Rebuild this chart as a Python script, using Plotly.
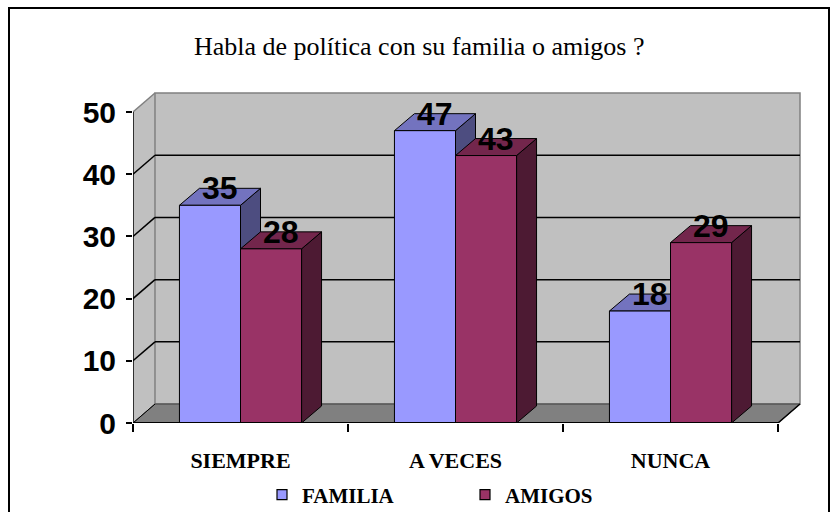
import plotly.graph_objects as go

# ---- data ----
categorias = ["SIEMPRE", "A VECES", "NUNCA"]
familia = [35, 47, 18]
amigos = [28, 43, 29]
series_names = ["FAMILIA", "AMIGOS"]
y_ticks = [0, 10, 20, 30, 40, 50]
titulo = "Habla de política con su familia o amigos ?"

# ---- geometry (axis units) ----
BW = 0.284          # bar width
BDX, BDY = 0.093, 2.73   # bar depth offset
WDX, WDY = 0.1023, 3.05  # wall depth offset
YMAX = 50
XR = [-0.5, 2.6209]
YR = [0, 53.376]

fam_cols = dict(front="#9999FF", top="#7373BF", side="#4D4D80")
ami_cols = dict(front="#993366", top="#73264C", side="#4D1A33")

SERIF = "Liberation Serif, Times New Roman, serif"
SANS = "Liberation Sans, Arial, sans-serif"


def faces(values, left_offset):
    fx, fy, tx, ty, sx, sy = [], [], [], [], [], []
    for i, v in enumerate(values):
        x0 = i + left_offset
        x1 = x0 + BW
        fx += [x0, x1, x1, x0, x0, None]
        fy += [0, 0, v, v, 0, None]
        tx += [x0, x1, x1 + BDX, x0 + BDX, x0, None]
        ty += [v, v, v + BDY, v + BDY, v, None]
        sx += [x1, x1 + BDX, x1 + BDX, x1, x1, None]
        sy += [0, BDY, v + BDY, v, 0, None]
    return (fx, fy), (tx, ty), (sx, sy)


fig = go.Figure()

for vals, off, cols in [(familia, -BW, fam_cols), (amigos, 0.0, ami_cols)]:
    front, top, side = faces(vals, off)
    for (xs, ys), key in [(side, "side"), (top, "top"), (front, "front")]:
        fig.add_trace(go.Scatter(
            x=xs, y=ys, mode="lines", fill="toself", fillcolor=cols[key],
            line=dict(color="black", width=1), showlegend=False, hoverinfo="skip"))

# legend entries
for name, cols in zip(series_names, [fam_cols, ami_cols]):
    fig.add_trace(go.Scatter(
        x=[None], y=[None], mode="markers", name=name,
        marker=dict(symbol="square", size=10, color=cols["front"],
                    line=dict(color="black", width=1.2))))

shapes = []
shapes.append(dict(type="path", xref="x", yref="y", layer="below",
                   path=f"M {XR[0]},0 L {XR[0]+WDX},{WDY} L {XR[0]+WDX},{YMAX+WDY} L {XR[0]},{YMAX} Z",
                   fillcolor="#C0C0C0", line=dict(width=0)))
shapes.append(dict(type="rect", xref="x", yref="y", layer="below",
                   x0=XR[0] + WDX, x1=2.5 + WDX, y0=WDY, y1=YMAX + WDY,
                   fillcolor="#C0C0C0", line=dict(color="#808080", width=1.5)))
for v in y_ticks[1:-1]:
    shapes.append(dict(type="line", xref="x", yref="y", layer="below",
                       x0=XR[0] + WDX, x1=2.5 + WDX, y0=v + WDY, y1=v + WDY,
                       line=dict(color="black", width=1.5)))
    shapes.append(dict(type="line", xref="x", yref="y", layer="below",
                       x0=XR[0], x1=XR[0] + WDX, y0=v, y1=v + WDY,
                       line=dict(color="black", width=1.5)))
shapes.append(dict(type="line", xref="x", yref="y", layer="below",
                   x0=XR[0], x1=XR[0] + WDX, y0=YMAX, y1=YMAX + WDY,
                   line=dict(color="#808080", width=1.5)))
shapes.append(dict(type="path", xref="x", yref="y", layer="below",
                   path=f"M {XR[0]},0 L 2.5,0 L {2.5+WDX},{WDY} L {XR[0]+WDX},{WDY} Z",
                   fillcolor="#808080", line=dict(color="#404040", width=1)))
shapes.append(dict(type="line", xref="x", yref="y", layer="below",
                   x0=2.5, x1=2.5 + WDX, y0=0, y1=WDY,
                   line=dict(color="black", width=1.5)))
shapes.append(dict(type="line", xref="x", yref="y", layer="below",
                   x0=XR[0], x1=XR[0] + WDX, y0=0, y1=WDY,
                   line=dict(color="black", width=1)))
shapes.append(dict(type="line", xref="x", yref="y", layer="above",
                   x0=XR[0], x1=XR[0], y0=0, y1=YMAX,
                   line=dict(color="black", width=1.5)))
shapes.append(dict(type="line", xref="x", yref="y", layer="above",
                   x0=XR[0], x1=2.5, y0=0, y1=0,
                   line=dict(color="black", width=2)))

L, T, PW, PH = 133, 91, 671, 332
B = T + PH
def px(p): return (p - L) / PW
def py(p): return (B - p) / PH
shapes.append(dict(type="rect", xref="paper", yref="paper",
                   x0=px(9), x1=px(829), y0=py(530), y1=py(8),
                   line=dict(color="black", width=2), fillcolor="rgba(0,0,0,0)"))

annotations = []
annotations.append(dict(text=titulo, xref="paper", yref="paper", x=px(419), y=py(46),
                        showarrow=False, xanchor="center", yanchor="middle",
                        font=dict(family=SERIF, size=26, color="black")))
for vals, off in [(familia, -BW), (amigos, 0.0)]:
    for i, v in enumerate(vals):
        annotations.append(dict(text=str(v), x=i + off + BW / 2 + BDX / 2, y=v + BDY,
                                xref="x", yref="y", showarrow=False,
                                xanchor="center", yanchor="middle",
                                font=dict(family=SANS, size=32, color="black",
                                          weight="bold")))

fig.update_layout(
    width=840, height=512,
    margin=dict(l=L, r=840 - L - PW, t=T, b=512 - B, autoexpand=False),
    paper_bgcolor="white", plot_bgcolor="white",
    shapes=shapes, annotations=annotations,
    showlegend=True,
    legend=dict(orientation="h", x=px(262), y=py(495), xanchor="left", yanchor="middle",
                font=dict(family=SERIF, size=21, color="black", weight="bold"),
                entrywidth=158, bgcolor="rgba(0,0,0,0)", itemwidth=30),
    xaxis=dict(range=XR, showgrid=False, zeroline=False, showline=False,
               tickmode="array", tickvals=list(range(len(categorias))),
               ticktext=categorias,
               ticks="", ticklabelstandoff=22,
               tickfont=dict(family=SERIF, size=22, color="black", weight="bold"),
               minor=dict(tickmode="array", tickvals=[-0.5, 0.5, 1.5, 2.5], ticks="outside",
                          ticklen=8, tickwidth=1.5, tickcolor="black", showgrid=False),
               fixedrange=True),
    yaxis=dict(range=YR, showgrid=False, zeroline=False, showline=False,
               tickmode="array", tickvals=y_ticks, ticks="outside", ticklen=6,
               tickwidth=1.5, tickcolor="black", ticklabelstandoff=4,
               tickfont=dict(family=SANS, size=30, color="black", weight="bold"),
               fixedrange=True),
)

fig.write_html("out.html", config={"displayModeBar": False},
               post_script="document.body.style.margin='0px';")
